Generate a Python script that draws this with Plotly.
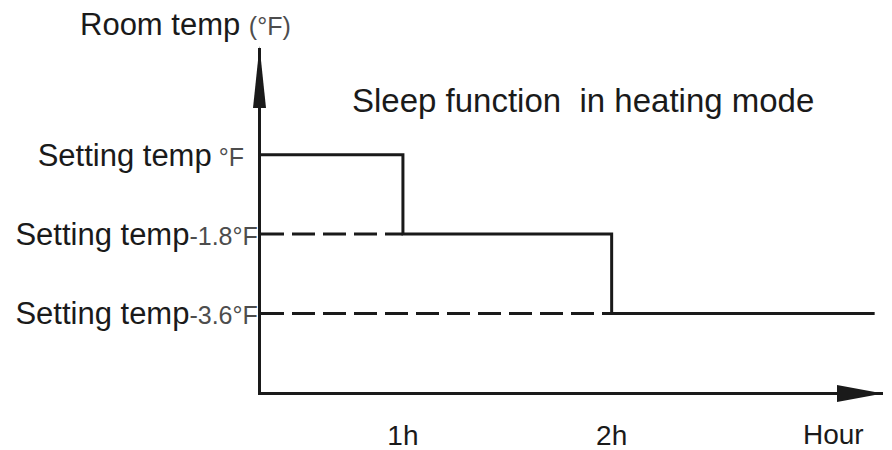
import plotly.graph_objects as go

# schematic values: time in hours, temperature offset from the setting in °F
step_hours = [0, 1, 2, 3.26]
step_offsets = [0, -1.8, -3.6, -3.6]
level_offsets = [0, -1.8, -3.6]
level_labels = ['Setting temp', 'Setting temp', 'Setting temp']
level_suffix = ['\u00a0°F\u00a0\u00a0', '-1.8°F', '-3.6°F']
dash_offsets = [-1.8, -3.6]
dash_end_hours = [1, 2]
hour_ticks = [1, 2]
hour_labels = ['1h', '2h']

FONT = 'Liberation Sans, Arial, sans-serif'
INK = '#1a1a1a'
GRAY = '#4d4d4d'
X_RANGE = [0.32, 3.30]
Y_RANGE = [-5.38, 2.42]

fig = go.Figure()

for off, x_end in zip(dash_offsets, dash_end_hours):
    fig.add_trace(go.Scatter(
        x=[X_RANGE[0], x_end], y=[off, off], mode='lines',
        line=dict(color=INK, width=3, dash='23px,8px'),
        hoverinfo='skip', showlegend=False,
    ))

fig.add_trace(go.Scatter(
    x=step_hours, y=step_offsets, mode='lines',
    line=dict(color=INK, width=3, shape='hv'),
    showlegend=False,
))

y_ticktext = [
    f"{lab}<span style='font-size:25px;color:{GRAY}'>{suf}</span>"
    for lab, suf in zip(level_labels, level_suffix)
]

fig.update_layout(
    width=892, height=450,
    margin=dict(l=261, r=9, t=48, b=58),
    plot_bgcolor='white', paper_bgcolor='white',
    font=dict(family=FONT, color=INK),
    xaxis=dict(
        range=X_RANGE, showgrid=False, zeroline=False, automargin=False,
        showline=True, linecolor=INK, linewidth=3,
        tickvals=hour_ticks, ticktext=hour_labels, ticks='',
        tickfont=dict(size=28, color=INK), ticklabelstandoff=16,
    ),
    yaxis=dict(
        range=Y_RANGE, showgrid=False, zeroline=False, automargin=False,
        showline=True, linecolor=INK, linewidth=3,
        tickvals=level_offsets, ticktext=y_ticktext, ticks='',
        tickfont=dict(size=31, color=INK), ticklabelstandoff=-6,
    ),
    annotations=[
        dict(text=f"Room temp <span style='font-size:25px;color:{GRAY}'>(°F)</span>",
             xref='paper', yref='paper', x=0, y=1, xanchor='left', yanchor='middle',
             xshift=-183, yshift=24, showarrow=False, font=dict(size=31, color=INK)),
        dict(text='Sleep function\u00a0 in heating mode',
             xref='paper', yref='paper', x=0, y=1, xanchor='left', yanchor='middle',
             xshift=89, yshift=-52, showarrow=False, font=dict(size=33, color=INK)),
        dict(text='Hour', xref='paper', yref='paper', x=0, y=0, xanchor='center',
             yanchor='middle', xshift=833 - 261, yshift=-42, showarrow=False,
             font=dict(size=28, color=INK)),
    ],
    shapes=[
        # arrowhead on the vertical axis
        dict(type='path', xref='paper', yref='paper', xsizemode='pixel', ysizemode='pixel',
             xanchor=0, yanchor=1, path='M -1.5 2 L -8 -60 L 5 -60 Z',
             fillcolor=INK, line=dict(width=0)),
        # arrowhead on the horizontal axis
        dict(type='path', xref='paper', yref='paper', xsizemode='pixel', ysizemode='pixel',
             xanchor=1, yanchor=0, path='M 0 -1.5 L -46 7 L -46 -10 Z',
             fillcolor=INK, line=dict(width=0)),
    ],
)

# the default page keeps an 8px body margin, drop it so the figure sits at 0,0
fig.write_html('out.html', config={'displayModeBar': False},
               post_script="document.body.style.margin='0';")
